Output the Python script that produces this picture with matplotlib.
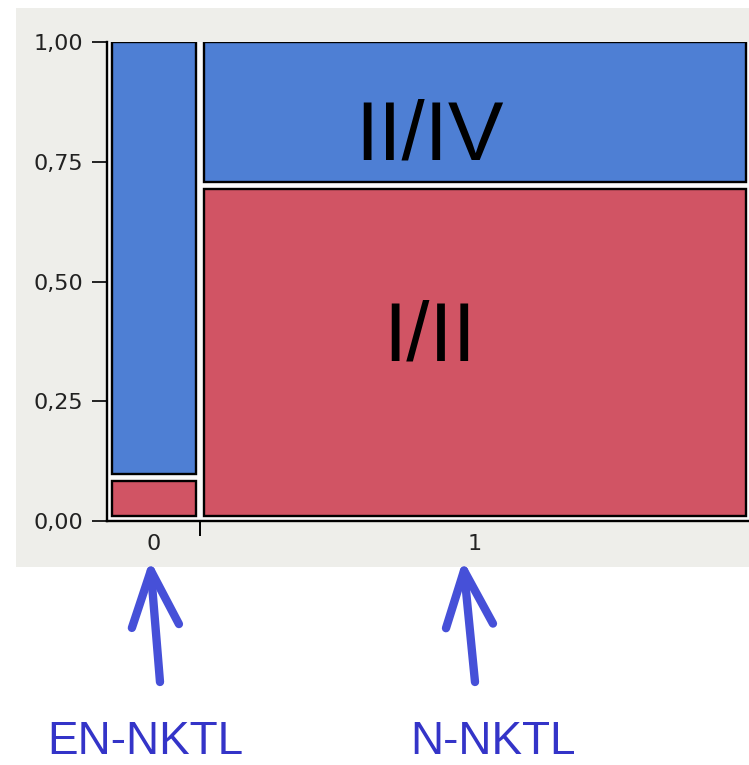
import matplotlib.pyplot as plt
from matplotlib.patches import Rectangle

# mosaic data: column widths (share of cases) and share of the lower (red) class
categories = ['0', '1']
col_share = [0.134, 0.866]
red_share = [0.075, 0.70]
y_ticks = [0.0, 0.25, 0.50, 0.75, 1.0]
y_ticklabels = ['0,00', '0,25', '0,50', '0,75', '1,00']
seg_labels = ['I/II', 'II/IV']
arrow_labels = ['EN-NKTL', 'N-NKTL']

red = '#D15464'
blue = '#4E7FD4'
panel = '#EEEEEA'
arrow_col = '#4650D8'
text_col = '#3434C8'

W, H = 749, 765
fig = plt.figure(figsize=(W / 100, H / 100), dpi=100)
fig.patch.set_facecolor('white')

# grey panel behind the plot
fig.add_artist(Rectangle((16 / W, (H - 567) / H), (W - 16) / W, (567 - 8) / H,
                         transform=fig.transFigure, facecolor=panel, edgecolor='none', zorder=0))

ax = fig.add_axes([107 / W, (H - 521) / H, (W - 107) / W, (521 - 42) / H])
ax.set_facecolor('#FAFAFA')

gap_x = 8 / 626
base = 0.01
gap_y = 0.015
avail = 1 - base - gap_y

lefts = []
x = 0
for w in col_share:
    lefts.append(x)
    x += w + gap_x

for i, w in enumerate(col_share):
    rh = red_share[i] * avail
    ax.bar(lefts[i], rh, width=w, bottom=base, align='edge', color=red,
           edgecolor='black', linewidth=1.7)
    ax.bar(lefts[i], 1 - (base + rh + gap_y), width=w, bottom=base + rh + gap_y,
           align='edge', color=blue, edgecolor='black', linewidth=1.7)

# segment labels in the large column
i = 1
cx = lefts[i] + col_share[i] * 0.417
ax.text(cx, 0.382, seg_labels[0], ha='center', va='center',
        fontsize=60, family='Liberation Sans', color='black')
ax.text(cx, 0.80, seg_labels[1], ha='center', va='center',
        fontsize=60, family='Liberation Sans', color='black')

ax.set_xlim(-5 / 626, (W - 112) / 626)
ax.set_ylim(0, 1)
ax.spines['top'].set_visible(False)
ax.spines['right'].set_visible(False)
ax.spines['left'].set_linewidth(1.7)
ax.spines['bottom'].set_linewidth(1.7)

ax.set_yticks(y_ticks)
ax.set_yticklabels(y_ticklabels)
ax.tick_params(axis='y', length=11, width=1.4, labelsize=16, pad=6, colors='#222222')

centers = [lefts[k] + col_share[k] / 2 for k in range(2)]
ax.set_xticks(centers)
ax.set_xticklabels(categories)
ax.set_xticks([col_share[0] + gap_x / 2], minor=True)
ax.tick_params(axis='x', which='major', length=0, labelsize=16, pad=9, colors='#222222')
ax.tick_params(axis='x', which='minor', length=11, width=1.4)

# arrows pointing to the category labels
arrow_x = [(160, 150), (475, 463)]
for (x0, x1), lab, tx in zip(arrow_x, arrow_labels, [145, 493]):
    ax.annotate('', xy=(x1, H - 560), xycoords='figure pixels',
                xytext=(x0, H - 682), textcoords='figure pixels',
                arrowprops=dict(arrowstyle='->,head_length=2.0,head_width=0.85',
                                lw=6, color=arrow_col, mutation_scale=20,
                                shrinkA=0, shrinkB=0, capstyle='round'))
    fig.text(tx / W, (H - 754) / H, lab, ha='center', va='baseline',
             fontsize=33, family='Liberation Sans', color=text_col)

fig.savefig('out.png', dpi=100)
